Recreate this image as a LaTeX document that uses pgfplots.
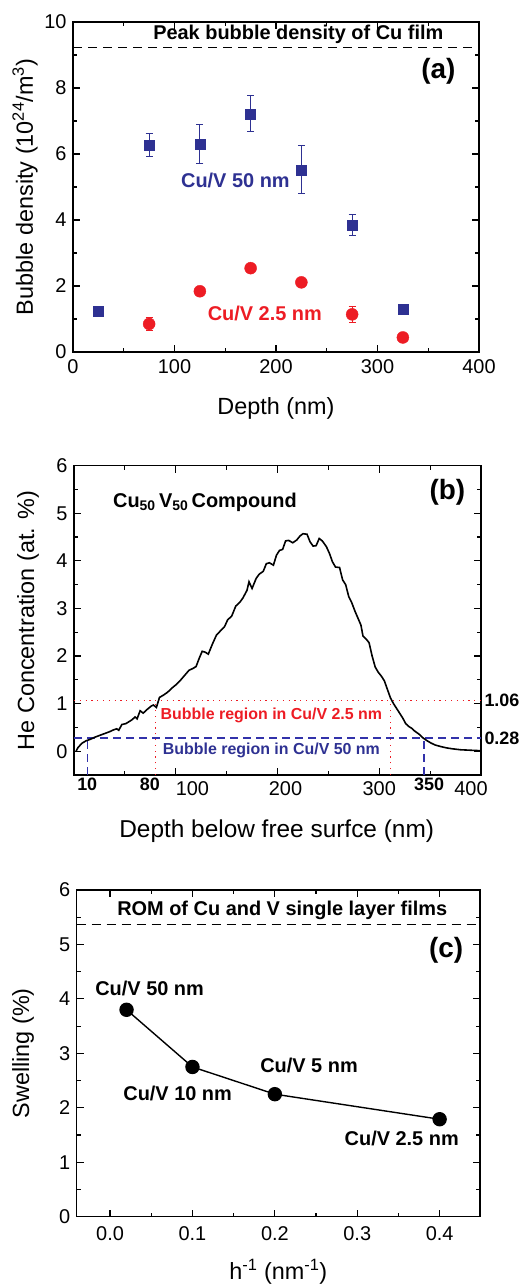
\documentclass[border=0pt]{standalone}
\usepackage{fontspec}
\setmainfont{Liberation Sans}
\usepackage{pgfplots}
\pgfplotsset{compat=1.18}
\definecolor{cblue}{RGB}{46,49,146}
\definecolor{lblue}{RGB}{50,50,170}
\definecolor{cred}{RGB}{237,28,36}

\pgfplotstableread{
x y
2 0.00
4 0.08
8 0.17
12 0.22
16 0.25
20 0.29
25 0.33
30 0.37
35 0.41
39 0.45
42 0.47
44 0.44
47 0.56
51 0.58
54 0.62
57 0.66
60 0.72
62 0.68
65 0.85
68 0.80
72 0.88
76 0.95
78 0.97
81 0.92
84 1.13
88 1.18
92 1.24
97 1.34
101 1.41
105 1.50
109 1.60
113 1.70
117 1.74
120 1.78
123 1.95
126 2.10
129 2.08
132 2.04
136 2.25
140 2.44
144 2.53
148 2.62
151 2.76
155 2.84
159 3.05
163 3.13
166 3.22
170 3.38
172 3.56
175 3.42
179 3.63
182 3.72
186 3.78
189 3.94
192 3.96
196 3.91
199 4.12
202 4.22
205 4.24
208 4.42
211 4.43
215 4.38
219 4.44
222 4.52
225 4.57
229 4.56
232 4.40
235 4.31
238 4.32
241 4.47
244 4.42
248 4.30
251 4.16
254 3.98
257 3.87
261 3.86
264 3.60
267 3.50
270 3.25
273 3.12
276 2.95
279 2.80
282 2.65
284 2.42
287 2.36
290 2.28
293 2.00
296 1.77
299 1.66
302 1.58
305 1.48
308 1.30
311 1.12
314 1.00
317 0.90
320 0.80
323 0.70
326 0.58
329 0.52
332 0.48
335 0.42
339 0.36
343 0.28
347 0.22
351 0.17
355 0.13
360 0.10
366 0.07
372 0.05
380 0.03
390 0.02
400 0.01
}\heprofile

\pgfplotsset{
  myaxis/.style={
    scale only axis,
    anchor=south west,
    axis line style={line width=1.5bp},
    every tick/.style={line width=1.2bp, black},
    tick align=inside,
    major tick length=7bp,
    minor tick length=4bp,
    tick label style={font=\fontsize{20}{24}\selectfont},
    yticklabel style={xshift=-3bp},
    label style={font=\fontsize{23.5}{28}\selectfont},
    /pgf/number format/assume math mode=true,
    clip=false,
  }
}

\begin{document}
\begin{tikzpicture}
\useasboundingbox (0,0) rectangle (526bp,1286bp);

% ---------------- (a)
\begin{axis}[myaxis,
  at={(73bp,934bp)}, width=406bp, height=330bp,
  xmin=0, xmax=400, ymin=0, ymax=10,
  xtick={0,100,200,300,400}, minor x tick num=1,
  ytick={0,2,4,6,8,10}, minor y tick num=1,
  xticklabel style={yshift=-4bp},
  xlabel={Depth (nm)},
  ylabel={Bubble density (10\textsuperscript{24}/m\textsuperscript{3})},
  xlabel style={at={(axis description cs:0.5,-0.171)}, anchor=center},
  ylabel style={at={(axis description cs:-0.118,0.5)}, anchor=center},
]
\addplot[black, line width=1.5bp, dash pattern=on 9bp off 6bp] coordinates {(0,9.23) (400,9.23)};
\addplot[only marks, cblue, mark=square*, mark size=5bp,
  error bars/.cd, y dir=both, y explicit,
  error bar style={line width=1bp, cblue},
  error mark options={rotate=90, mark size=3.5bp, line width=1bp, cblue}]
coordinates {
 (25,1.25) +- (0,0)
 (75,6.28) +- (0,0.35)
 (125,6.30) +- (0,0.58)
 (175,7.22) +- (0,0.54)
 (225,5.52) +- (0,0.73)
 (275,3.85) +- (0,0.33)
 (325,1.29) +- (0,0.08)
};
\addplot[only marks, cred, mark=*, mark size=6bp,
  error bars/.cd, y dir=both, y explicit,
  error bar style={line width=1bp, cred},
  error mark options={rotate=90, mark size=3.5bp, line width=1bp, cred}]
coordinates {
 (75,0.85) +- (0,0.21)
 (125,1.84) +- (0,0.08)
 (175,2.54) +- (0,0.05)
 (225,2.11) +- (0,0.08)
 (275,1.14) +- (0,0.24)
 (325,0.44) +- (0,0)
};
\node[font=\fontsize{20}{24}\selectfont\bfseries, text=black] at (axis cs:222,9.63) {Peak bubble density of Cu film};
\node[font=\fontsize{28}{32}\selectfont\bfseries] at (axis cs:360,8.5) {(a)};
\node[font=\fontsize{20}{24}\selectfont\bfseries, text=cblue] at (axis cs:160,5.2) {Cu/V 50 nm};
\node[font=\fontsize{20}{24}\selectfont\bfseries, text=cred] at (axis cs:189,1.17) {Cu/V 2.5 nm};
\end{axis}

% ---------------- (b)
\begin{axis}[myaxis,
  at={(74bp,511bp)}, width=407bp, height=309.3bp,
  xmin=0, xmax=400, ymin=-0.5, ymax=6,
  xtick={100,200,300,400},
  xticklabels={\makebox[0pt][l]{100}, \hspace*{16bp}200, 300, 400\hspace*{20bp}},
  xticklabel style={yshift=-3bp},
  minor xtick={50,150,250,350},
  extra x ticks={13,74.5,349},
  extra x tick labels={10,80,350},
  extra x tick style={major tick length=0pt, xticklabel style={font=\fontsize{18}{22}\selectfont\bfseries, yshift=4bp}},
  ytick={0,1,2,3,4,5,6}, minor y tick num=1,
  xlabel={Depth below free surfce (nm)},
  ylabel={He Concentration (at. \%)},
  xlabel style={at={(axis description cs:0.498,-0.183)}, anchor=center, font=\fontsize{24.5}{28}\selectfont},
  ylabel style={at={(axis description cs:-0.113,0.5)}, anchor=center},
]
\addplot[cred, line width=1.2bp, dash pattern=on 1.2bp off 4.6bp] coordinates {(0,1.06) (400,1.06)};
\addplot[cred, line width=1.2bp, dash pattern=on 1.2bp off 4.6bp] coordinates {(80,-0.5) (80,1.06)};
\addplot[cred, line width=1.2bp, dash pattern=on 1.2bp off 4.6bp] coordinates {(311,-0.5) (311,1.06)};
\addplot[lblue, line width=1.3bp, dash pattern=on 8bp off 5bp] coordinates {(0,0.28) (400,0.28)};
\addplot[lblue, line width=1.3bp, dash pattern=on 8bp off 5bp] coordinates {(13,-0.5) (13,0.28)};
\addplot[lblue, line width=1.3bp, dash pattern=on 8bp off 5bp] coordinates {(344,-0.5) (344,0.28)};
\addplot[black, line width=1.6bp] table[x=x, y=y] {\heprofile};
\node[font=\fontsize{18}{22}\selectfont\bfseries, anchor=west] at (axis cs:400,1.06) {1.06};
\node[font=\fontsize{18}{22}\selectfont\bfseries, anchor=west] at (axis cs:400,0.28) {0.28};
\node[font=\fontsize{16}{19}\selectfont\bfseries, text=cred] at (axis cs:194,0.75) {Bubble region in Cu/V 2.5 nm};
\node[font=\fontsize{16}{19}\selectfont\bfseries, text=cblue] at (axis cs:194,0.02) {Bubble region in Cu/V 50 nm};
\node[font=\fontsize{20}{24}\selectfont\bfseries, anchor=west] at (axis cs:35,5.24) {Cu\textsubscript{50}\,V\textsubscript{50}\,Compound};
\node[font=\fontsize{28}{32}\selectfont\bfseries] at (axis cs:367,5.45) {(b)};
\end{axis}

% ---------------- (c)
\begin{axis}[myaxis,
  at={(76.7bp,69.3bp)}, width=403.3bp, height=326.7bp,
  xmin=-0.0405, xmax=0.449, ymin=0, ymax=6,
  xtick={0,0.1,0.2,0.3,0.4}, minor x tick num=1,
  ytick={0,1,2,3,4,5,6}, minor y tick num=1,
  xticklabel style={yshift=-6bp, /pgf/number format/.cd, fixed, fixed zerofill, precision=1},
  xlabel={h\textsuperscript{-1} (nm\textsuperscript{-1})},
  ylabel={Swelling (\%)},
  xlabel style={at={(axis description cs:0.5,-0.168)}, anchor=center},
  ylabel style={at={(axis description cs:-0.133,0.5)}, anchor=center},
]
\addplot[black, line width=1.5bp, dash pattern=on 9bp off 6bp] coordinates {(-0.0405,5.37) (0.449,5.37)};
\addplot[black, line width=1.4bp, mark=*, mark size=6.5bp] coordinates {
 (0.02,3.80) (0.1,2.75) (0.2,2.25) (0.4,1.79)
};
\node[font=\fontsize{20}{24}\selectfont\bfseries] at (axis cs:0.209,5.62) {ROM of Cu and V single layer films};
\node[font=\fontsize{28}{32}\selectfont\bfseries] at (axis cs:0.408,4.90) {(c)};
\node[font=\fontsize{20}{24}\selectfont\bfseries] at (axis cs:0.048,4.19) {Cu/V 50 nm};
\node[font=\fontsize{20}{24}\selectfont\bfseries] at (axis cs:0.082,2.27) {Cu/V 10 nm};
\node[font=\fontsize{20}{24}\selectfont\bfseries] at (axis cs:0.2415,2.77) {Cu/V 5 nm};
\node[font=\fontsize{20}{24}\selectfont\bfseries] at (axis cs:0.354,1.44) {Cu/V 2.5 nm};
\end{axis}
\end{tikzpicture}
\end{document}
